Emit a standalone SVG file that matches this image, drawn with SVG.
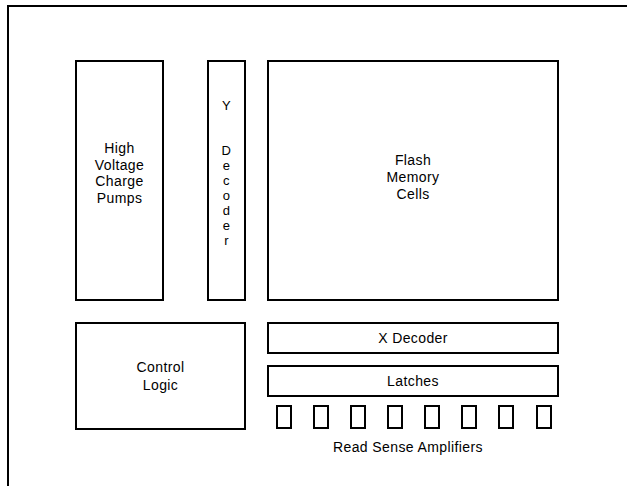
<svg xmlns="http://www.w3.org/2000/svg" width="627" height="486" viewBox="0 0 627 486">
<style>
.b{fill:#fff;stroke:#000;stroke-width:2}
.t{font-family:"Liberation Sans",Arial,sans-serif;font-size:14px;fill:#000;text-anchor:middle;letter-spacing:0.4px}
.y{font-size:13px}
.f{fill:none;stroke:#000;stroke-width:2}
</style>
<rect width="627" height="486" fill="#fff"/>
<g id="frame"><path class="f" d="M8 486 V6 H627"/></g>
<g id="hv"><rect class="b" x="76" y="61" width="87" height="239"/>
<text class="t" x="119.5" y="153">High</text><text class="t" x="119.5" y="169.5">Voltage</text><text class="t" x="119.5" y="186">Charge</text><text class="t" x="119.5" y="202.5">Pumps</text></g>
<g id="ydec"><rect class="b" x="208" y="61" width="37" height="239"/>
<text class="t y" x="226.5" y="110">Y</text><text class="t y" x="226.5" y="155">D</text><text class="t y" x="226.5" y="170">e</text><text class="t y" x="226.5" y="185">c</text><text class="t y" x="226.5" y="200">o</text><text class="t y" x="226.5" y="215">d</text><text class="t y" x="226.5" y="230">e</text><text class="t y" x="226.5" y="245">r</text></g>
<g id="flash"><rect class="b" x="268" y="61" width="290" height="239"/>
<text class="t" x="413" y="165">Flash</text><text class="t" x="413" y="182">Memory</text><text class="t" x="413" y="199">Cells</text></g>
<g id="ctrl"><rect class="b" x="76" y="323" width="169" height="106"/>
<text class="t" x="160.5" y="372">Control</text><text class="t" x="160.5" y="390">Logic</text></g>
<g id="xdec"><rect class="b" x="268" y="323" width="290" height="30"/>
<text class="t" x="413" y="343">X Decoder</text></g>
<g id="latch"><rect class="b" x="268" y="366" width="290" height="30"/>
<text class="t" x="413" y="386">Latches</text></g>
<g id="rsa">
<rect class="b" x="277" y="406" width="14" height="22"/>
<rect class="b" x="314" y="406" width="14" height="22"/>
<rect class="b" x="351" y="406" width="14" height="22"/>
<rect class="b" x="388" y="406" width="14" height="22"/>
<rect class="b" x="425" y="406" width="14" height="22"/>
<rect class="b" x="462" y="406" width="14" height="22"/>
<rect class="b" x="499" y="406" width="14" height="22"/>
<rect class="b" x="537" y="406" width="14" height="22"/>
<text class="t" x="408" y="452">Read Sense Amplifiers</text></g>
<g id="connectors"/>
</svg>
